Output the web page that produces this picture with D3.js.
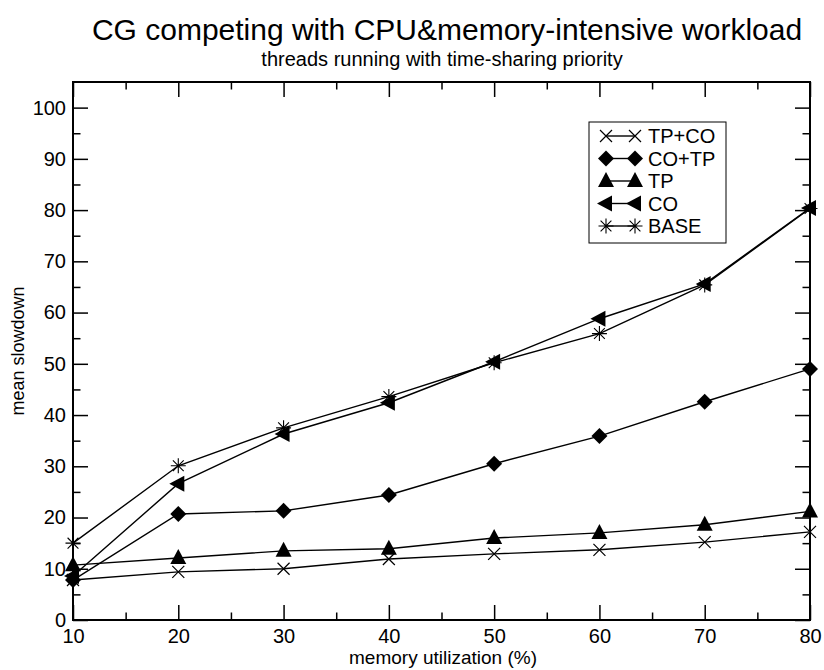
<!DOCTYPE html>
<html>
<head>
<meta charset="utf-8">
<script src="https://cdn.jsdelivr.net/npm/d3@7"></script>
<style>
  body { margin: 0; background: #fff; }
  svg { font-family: "Liberation Sans", Arial, sans-serif; }
</style>
</head>
<body>
<script>
// memory utilization (%)
const memUtil = [10, 20, 30, 40, 50, 60, 70, 80];

// mean slowdown per series
const tpco = [7.8, 9.4, 10.0, 11.9, 12.9, 13.7, 15.2, 17.2];
const cotp = [7.8, 20.7, 21.3, 24.4, 30.5, 35.9, 42.6, 49.0];
const tp = [10.7, 12.1, 13.5, 13.9, 16.0, 17.0, 18.6, 21.2];
const co = [8.6, 26.6, 36.3, 42.4, 50.4, 58.8, 65.6, 80.4];
const base = [15.0, 30.1, 37.5, 43.6, 50.2, 55.9, 65.4, 80.3];

const seriesNames = ["TP+CO", "CO+TP", "TP", "CO", "BASE"];
const seriesValues = [tpco, cotp, tp, co, base];
const seriesMarkers = ["cross", "diamond", "triangle", "left", "star"];

const yMajor = [0, 10, 20, 30, 40, 50, 60, 70, 80, 90, 100];
const yMinor = [5, 15, 25, 35, 45, 55, 65, 75, 85, 95];
const xMajor = [10, 20, 30, 40, 50, 60, 70, 80];
const xMinor = [15, 25, 35, 45, 55, 65, 75];

const w = 824;
const h = 670;
const plotL = 73, plotR = 810, plotT = 82, plotB = 620;

const svg = d3.select("body").append("svg").attr("width", w).attr("height", h);

const x = d3.scaleLinear().domain([10, 80]).range([plotL, plotR]);
const y = d3.scaleLinear().domain([0, 105]).range([plotB, plotT]);

// Titles
svg.append("text")
  .attr("x", 447).attr("y", 40)
  .attr("text-anchor", "middle")
  .style("font-size", "30px")
  .text("CG competing with CPU&memory-intensive workload");

svg.append("text")
  .attr("x", 442).attr("y", 66)
  .attr("text-anchor", "middle")
  .style("font-size", "20px")
  .text("threads running with time-sharing priority");

// Axes with inward ticks
function styleAxis(g) {
  g.select(".domain").remove();
  g.selectAll("line").attr("stroke", "#000").attr("stroke-width", 1.5);
  g.selectAll("text").style("font-size", "20px").attr("fill", "#000");
}

svg.append("g").attr("transform", `translate(${plotL},0)`)
  .call(d3.axisLeft(y).tickValues(yMajor).tickSizeInner(-15).tickSizeOuter(0).tickPadding(7))
  .call(styleAxis);
svg.append("g").attr("transform", `translate(${plotL},0)`)
  .call(d3.axisLeft(y).tickValues(yMinor).tickSize(-7.5).tickFormat(""))
  .call(styleAxis);
svg.append("g").attr("transform", `translate(${plotR},0)`)
  .call(d3.axisRight(y).tickValues(yMajor).tickSize(-15).tickFormat(""))
  .call(styleAxis);
svg.append("g").attr("transform", `translate(${plotR},0)`)
  .call(d3.axisRight(y).tickValues(yMinor).tickSize(-7.5).tickFormat(""))
  .call(styleAxis);

svg.append("g").attr("transform", `translate(0,${plotB})`)
  .call(d3.axisBottom(x).tickValues(xMajor).tickSizeInner(-15).tickSizeOuter(0).tickPadding(9))
  .call(styleAxis);
svg.append("g").attr("transform", `translate(0,${plotB})`)
  .call(d3.axisBottom(x).tickValues(xMinor).tickSize(-7.5).tickFormat(""))
  .call(styleAxis);
svg.append("g").attr("transform", `translate(0,${plotT})`)
  .call(d3.axisTop(x).tickValues(xMajor).tickSize(-15).tickFormat(""))
  .call(styleAxis);
svg.append("g").attr("transform", `translate(0,${plotT})`)
  .call(d3.axisTop(x).tickValues(xMinor).tickSize(-7.5).tickFormat(""))
  .call(styleAxis);

// Frame
svg.append("rect")
  .attr("x", plotL).attr("y", plotT)
  .attr("width", plotR - plotL).attr("height", plotB - plotT)
  .attr("fill", "none").attr("stroke", "#000").attr("stroke-width", 2);

// Axis titles
svg.append("text")
  .attr("x", 443).attr("y", 664)
  .attr("text-anchor", "middle")
  .style("font-size", "19px")
  .text("memory utilization (%)");

svg.append("text")
  .attr("transform", `translate(24,${(plotT + plotB) / 2}) rotate(-90)`)
  .attr("text-anchor", "middle")
  .style("font-size", "18px")
  .text("mean slowdown");

// Markers
function drawMarker(g, kind, cx, cy) {
  if (kind === "cross") {
    const s = 6;
    g.append("path")
      .attr("d", `M${cx - s},${cy - s}L${cx + s},${cy + s}M${cx - s},${cy + s}L${cx + s},${cy - s}`)
      .attr("stroke", "#000").attr("stroke-width", 1.2).attr("fill", "none");
  } else if (kind === "diamond") {
    const s = 8;
    g.append("path")
      .attr("d", `M${cx},${cy - s}L${cx + s},${cy}L${cx},${cy + s}L${cx - s},${cy}Z`)
      .attr("fill", "#000");
  } else if (kind === "triangle") {
    g.append("path")
      .attr("d", `M${cx},${cy - 9}L${cx + 8},${cy + 6}L${cx - 8},${cy + 6}Z`)
      .attr("fill", "#000");
  } else if (kind === "left") {
    g.append("path")
      .attr("d", `M${cx - 9},${cy}L${cx + 6},${cy - 8}L${cx + 6},${cy + 8}Z`)
      .attr("fill", "#000");
  } else if (kind === "star") {
    const s = 7.5;
    const d = s * 0.72;
    g.append("path")
      .attr("d", `M${cx},${cy - s}L${cx},${cy + s}` +
        `M${cx - d},${cy - d}L${cx + d},${cy + d}M${cx - d},${cy + d}L${cx + d},${cy - d}` +
        `M${cx - s},${cy}L${cx + s},${cy}`)
      .attr("stroke", "#000").attr("stroke-width", 1.1).attr("fill", "none");
  }
}

const line = d3.line().x((d, i) => x(memUtil[i])).y(d => y(d));

seriesValues.forEach((vals, k) => {
  const g = svg.append("g");
  g.append("path")
    .attr("d", line(vals))
    .attr("fill", "none")
    .attr("stroke", "#000")
    .attr("stroke-width", 1.4);
  vals.forEach((v, i) => drawMarker(g, seriesMarkers[k], x(memUtil[i]), y(v)));
});

// Legend
const legend = svg.append("g");
legend.append("rect")
  .attr("x", 589).attr("y", 122)
  .attr("width", 137).attr("height", 121)
  .attr("fill", "#fff").attr("stroke", "#000").attr("stroke-width", 1);

seriesNames.forEach((name, k) => {
  const ly = 136 + k * 22.5;
  legend.append("line")
    .attr("x1", 606).attr("x2", 635)
    .attr("y1", ly).attr("y2", ly)
    .attr("stroke", "#000").attr("stroke-width", 1.4);
  drawMarker(legend, seriesMarkers[k], 606, ly);
  drawMarker(legend, seriesMarkers[k], 635, ly);
  legend.append("text")
    .attr("x", 648).attr("y", ly + 7)
    .style("font-size", "20px")
    .text(name);
});
</script>
</body>
</html>
